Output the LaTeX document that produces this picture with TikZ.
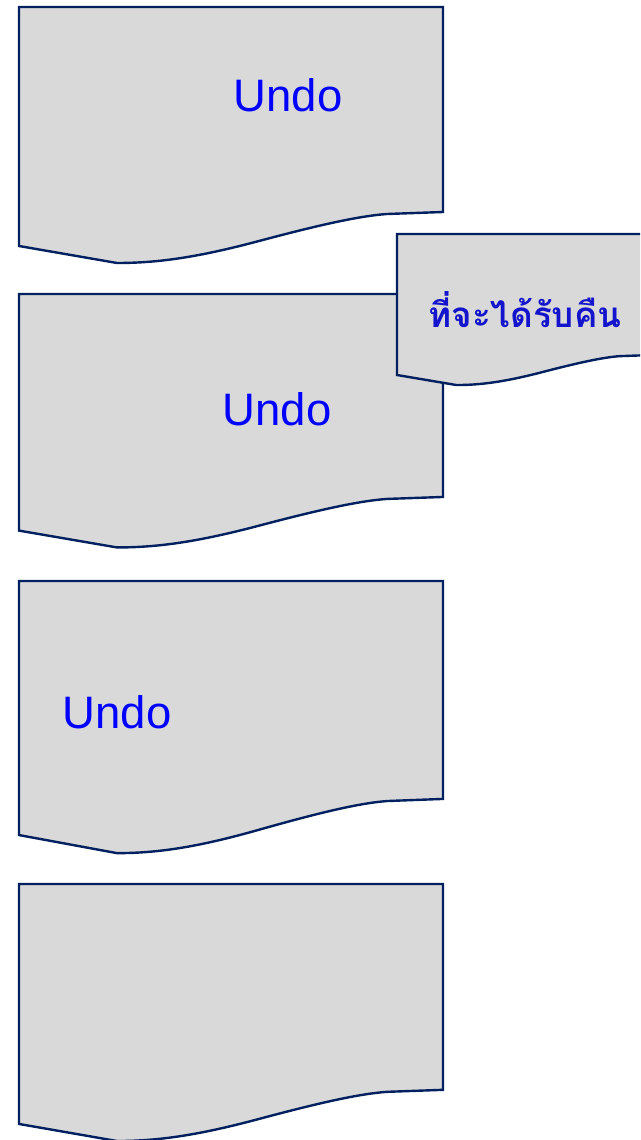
\documentclass[tikz,border=0pt]{standalone}
\usepackage{fontspec}
\setmainfont{Liberation Sans}
\newfontfamily\thaifont[Script=Thai]{Loma}
\definecolor{docfill}{HTML}{D9D9D9}
\definecolor{docline}{HTML}{002060}
\definecolor{undoblue}{HTML}{0000FF}
\definecolor{thaiblue}{HTML}{1414CC}
\tikzset{
  docstyle/.style={fill=docfill,draw=docline,line width=2.4pt,line join=miter},
  undotext/.style={text=undoblue,font=\fontsize{45.5}{50}\selectfont,inner sep=0pt},
  thaitext/.style={text=thaiblue,font=\thaifont\bfseries\fontsize{35}{40}\selectfont,inner sep=0pt}
}
\newcommand\docshape[5]{%
  \begin{scope}[shift={(#1,#2)},xscale=#3,yscale=#4]
    \path[docstyle] (0,0) -- (424,0) -- (424,205) -- (368,207)
      .. controls (340,209) and (300,218) .. (240,234)
      .. controls (180,250) and (140,256) .. (98,256)
      -- (0,239) -- cycle;
    \coordinate (#5) at (0,0);
  \end{scope}}
\begin{document}
\begin{tikzpicture}[x=1pt,y=-1pt]
\useasboundingbox (0,0) rectangle (640,1140);
\clip (0,0) rectangle (640,1140);
\docshape{19}{7}{1}{1}{d1}
\docshape{19}{294}{1}{0.99}{d2}
\docshape{397}{234}{0.606}{0.59}{d5}
\docshape{19}{581}{1}{1.063}{d3}
\docshape{19}{884}{1}{1.004}{d4}
\node[undotext] (u1) at (288,95) {Undo};
\node[undotext] (u2) at (277,409) {Undo};
\node[undotext] (u3) at (117,712) {Undo};
\node[thaitext] (t1) at (525,310) {ที่จะได้รับคืน};
\end{tikzpicture}
\end{document}
